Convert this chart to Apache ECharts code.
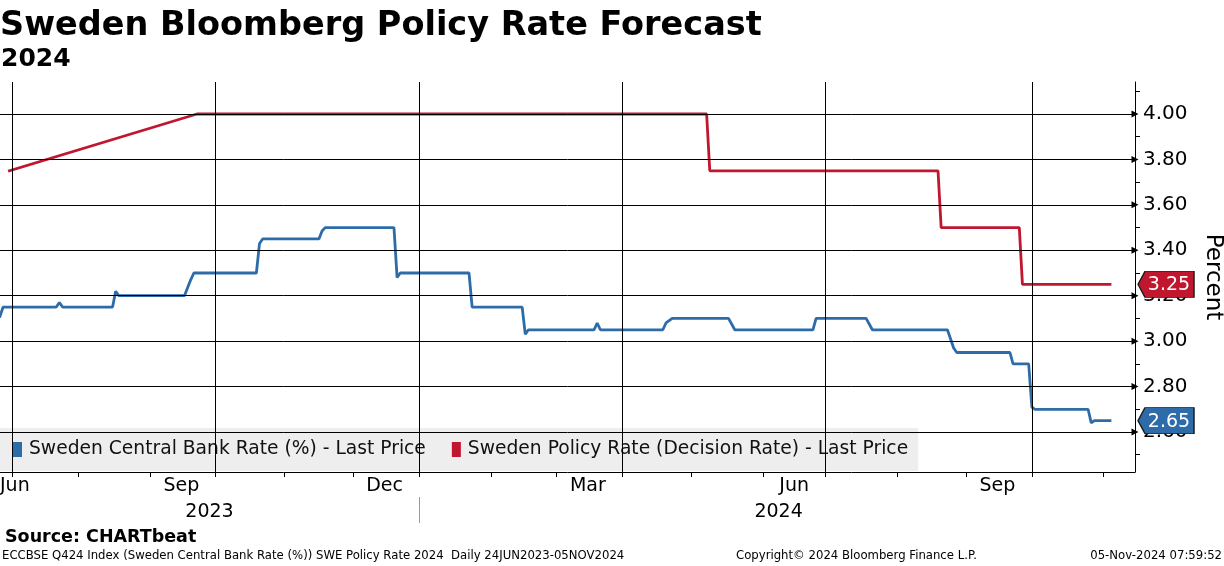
<!DOCTYPE html>
<html><head><meta charset="utf-8">
<script src="https://cdn.jsdelivr.net/npm/echarts@6/dist/echarts.min.js"></script>
<style>html,body{margin:0;padding:0;background:#fff}#c{width:1224px;height:566px}</style>
</head><body><div id="c"></div>
<script>
// ---------- data ----------
const seriesNames = ['Sweden Central Bank Rate (%) - Last Price', 'Sweden Policy Rate (Decision Rate) - Last Price'];
const blueDates = ['2023-06-27','2023-06-28','2023-07-21','2023-07-24','2023-07-25','2023-08-16','2023-08-17','2023-08-18',
  '2023-09-18','2023-09-20','2023-09-21','2023-10-19','2023-10-20','2023-10-23','2023-11-16','2023-11-17','2023-11-20',
  '2023-12-20','2023-12-21','2023-12-22','2024-01-23','2024-01-24','2024-02-15','2024-02-16','2024-02-19',
  '2024-03-19','2024-03-20','2024-03-21','2024-04-18','2024-04-19','2024-04-23','2024-05-17','2024-05-21',
  '2024-06-25','2024-06-26','2024-07-18','2024-07-22','2024-08-23','2024-08-27','2024-08-28','2024-09-20',
  '2024-09-23','2024-09-30','2024-10-01','2024-10-02','2024-10-25','2024-10-28','2024-10-29','2024-11-05'];
const blueValues = [3.11,3.15,3.15,3.17,3.15,3.15,3.22,3.20,
  3.20,3.27,3.30,3.30,3.43,3.45,3.45,3.485,3.50,
  3.50,3.28,3.30,3.30,3.15,3.15,3.03,3.05,
  3.05,3.08,3.05,3.05,3.08,3.10,3.10,3.05,
  3.05,3.10,3.10,3.05,3.05,2.97,2.95,2.95,
  2.90,2.90,2.71,2.70,2.70,2.64,2.65,2.65];
const redDates = ['2023-06-30','2023-09-22','2024-05-08','2024-05-09','2024-08-20','2024-08-21','2024-09-25','2024-09-26','2024-11-05'];
const redValues = [3.75,4.00,4.00,3.75,3.75,3.50,3.50,3.25,3.25];

const yTickValues = [2.6,2.8,3.0,3.2,3.4,3.6,3.8,4.0];
const yMinorTickValues = [2.5,2.7,2.9,3.1,3.3,3.5,3.7,3.9,4.1];
const quarterDates = ['2023-07-01','2023-10-01','2024-01-01','2024-04-01','2024-07-01','2024-10-01'];
const monthStartDates = ['2023-07-01','2023-08-01','2023-09-01','2023-10-01','2023-11-01','2023-12-01','2024-01-01',
  '2024-02-01','2024-03-01','2024-04-01','2024-05-01','2024-06-01','2024-07-01','2024-08-01','2024-09-01','2024-10-01','2024-11-01'];
const monthLabelDates = ['2023-06-27','2023-09-15','2023-12-15','2024-03-15','2024-06-15','2024-09-15'];
const monthLabels = ['Jun','Sep','Dec','Mar','Jun','Sep'];
const yearLabelDates = ['2023-09-28','2024-06-10'];
const yearLabels = ['2023','2024'];
const yearDividerDates = ['2024-01-01'];
const axisStart = '2023-06-27', axisEnd = '2024-11-15';
const yMin = 2.4239, yMax = 4.1409;

// ---------- helpers (weekday / trading-day scale) ----------
const DAY = 86400000;
function ts(s){ const p = s.split('-').map(Number); return Date.UTC(p[0], p[1]-1, p[2]); }
const BASE = ts('2023-07-01');
function wd(s){
  const t = ts(s); let n = 0;
  if (t >= BASE) { for (let x = BASE; x < t; x += DAY) { const w = new Date(x).getUTCDay(); if (w !== 0 && w !== 6) n++; } }
  else { for (let x = t; x < BASE; x += DAY) { const w = new Date(x).getUTCDay(); if (w !== 0 && w !== 6) n--; } }
  return n;
}
function labelFor(dates, labels){
  const t = dates.map(wd);
  return function(v){ let b = 0; for (let i = 1; i < t.length; i++) if (Math.abs(t[i]-v) < Math.abs(t[b]-v)) b = i; return labels[b]; };
}
const FONT = "'DejaVu Sans',Verdana,sans-serif";
const BLUE = '#2d6ca8', RED = '#c0172f';
const xMin = wd(axisStart), xMax = wd(axisEnd);
const blueData = blueDates.map((d,i)=>[wd(d), blueValues[i]]);
const redData = redDates.map((d,i)=>[wd(d), redValues[i]]);
const tagPath = 'path://M0,10 L7,0 L56,0 L56,20 L7,20 Z';
function tag(color, value){
  return {
    symbol: tagPath, symbolSize: [56, 26], symbolKeepAspect: false, symbolOffset: [31, 0],
    itemStyle: {color: color, borderColor: '#1a1a1a', borderWidth: 1},
    label: {show: true, position: 'inside', offset: [3, 1], color: '#fff', fontSize: 19, fontFamily: FONT,
      formatter: () => value.toFixed(2)},
    data: [{coord: [xMax, value]}],
    silent: true, animation: false
  };
}

const chart = echarts.init(document.getElementById('c'), null, {renderer: 'canvas'});
chart.setOption({
  animation: false,
  backgroundColor: '#fff',
  textStyle: {fontFamily: FONT},
  grid: {left: 0, right: 89, top: 82, bottom: 94, containLabel: false, outerBoundsMode: 'none'},
  legend: {
    data: seriesNames, left: 0, top: 428, icon: 'rect', itemWidth: 9, itemHeight: 15, itemGap: 26,
    padding: [12, 10, 12, 13], backgroundColor: 'rgba(222,222,222,0.5)',
    textStyle: {fontSize: 18.7, color: '#111', fontFamily: FONT, padding: [0, 0, 0, 2]}, selectedMode: false
  },
  xAxis: [{
    type: 'value', min: xMin, max: xMax, position: 'bottom',
    axisLine: {show: true, onZero: false, lineStyle: {color: '#000', width: 1}},
    axisTick: {show: true, length: 5, lineStyle: {color: '#000'}, customValues: monthStartDates.map(wd)},
    axisLabel: {customValues: monthLabelDates.map(wd), formatter: labelFor(monthLabelDates, monthLabels),
      color: '#000', fontSize: 19, margin: 5, alignMinLabel: 'left', hideOverlap: false},
    splitLine: {show: false}
  }, {
    type: 'value', min: xMin, max: xMax, position: 'bottom', offset: 25,
    axisLine: {show: false, onZero: false},
    axisTick: {show: true, length: 26, lineStyle: {color: '#999'}, customValues: yearDividerDates.map(wd)},
    axisLabel: {customValues: yearLabelDates.map(wd), formatter: labelFor(yearLabelDates, yearLabels),
      color: '#000', fontSize: 19, margin: 6, hideOverlap: false},
    splitLine: {show: false}
  }],
  yAxis: {
    type: 'value', position: 'right', min: yMin, max: yMax,
    name: 'Percent', nameLocation: 'middle', nameRotate: -90, nameGap: 66,
    nameTextStyle: {fontSize: 23, color: '#000', fontFamily: FONT},
    axisLine: {show: true, onZero: false, lineStyle: {color: '#000', width: 1}},
    axisTick: {show: true, length: 5, inside: false, lineStyle: {color: '#000'}, customValues: yMinorTickValues},
    axisLabel: {customValues: yTickValues, formatter: v => v.toFixed(2), color: '#000', fontSize: 20, margin: 8},
    splitLine: {show: false}
  },
  series: [
    {
      name: 'hgrid', type: 'line', data: [], z: 1, silent: true,
      markLine: {silent: true, symbol: ['none', 'triangle'], symbolSize: [7, 7], animation: false,
        label: {show: false}, lineStyle: {color: '#000', width: 1, type: 'solid'},
        data: yTickValues.map(v => ({yAxis: v}))}
    },
    {
      name: 'vgrid', type: 'line', data: [], z: 1, silent: true,
      markLine: {silent: true, symbol: ['none', 'none'], animation: false,
        label: {show: false}, lineStyle: {color: '#000', width: 1, type: 'solid'},
        data: quarterDates.map(d => ({xAxis: wd(d)}))}
    },
    {
      name: seriesNames[0], type: 'line', data: blueData, showSymbol: false, symbol: 'none', z: 3,
      lineStyle: {color: BLUE, width: 2.8, cap: 'square'}, itemStyle: {color: BLUE},
      markPoint: tag(BLUE, blueValues[blueValues.length-1])
    },
    {
      name: seriesNames[1], type: 'line', data: redData, showSymbol: false, symbol: 'none', z: 3,
      lineStyle: {color: RED, width: 2.8, cap: 'square'}, itemStyle: {color: RED},
      markPoint: tag(RED, redValues[redValues.length-1])
    }
  ],
  graphic: [
    {type: 'text', left: 0, top: 9, z: 10, style: {text: 'Sweden Bloomberg Policy Rate Forecast', fontSize: 33.5, fontWeight: 'bold', fontFamily: FONT, fill: '#000'}},
    {type: 'text', left: 1, top: 47, z: 10, style: {text: '2024', fontSize: 25, fontWeight: 'bold', fontFamily: FONT, fill: '#000'}},
    {type: 'text', left: 5, top: 528, z: 10, style: {text: 'Source: CHARTbeat', fontSize: 17.5, fontWeight: 'bold', fontFamily: FONT, fill: '#000'}},
    {type: 'text', left: 2, top: 550, z: 10, style: {text: 'ECCBSE Q424 Index (Sweden Central Bank Rate (%)) SWE Policy Rate 2024  Daily 24JUN2023-05NOV2024', fontSize: 11.7, fontFamily: FONT, fill: '#000'}},
    {type: 'text', left: 736, top: 550, z: 10, style: {text: 'Copyright\u00A9 2024 Bloomberg Finance L.P.', fontSize: 11.7, fontFamily: FONT, fill: '#000'}},
    {type: 'text', right: 2, top: 550, z: 10, style: {text: '05-Nov-2024 07:59:52', fontSize: 11.7, fontFamily: FONT, fill: '#000'}}
  ]
});
</script></body></html>
